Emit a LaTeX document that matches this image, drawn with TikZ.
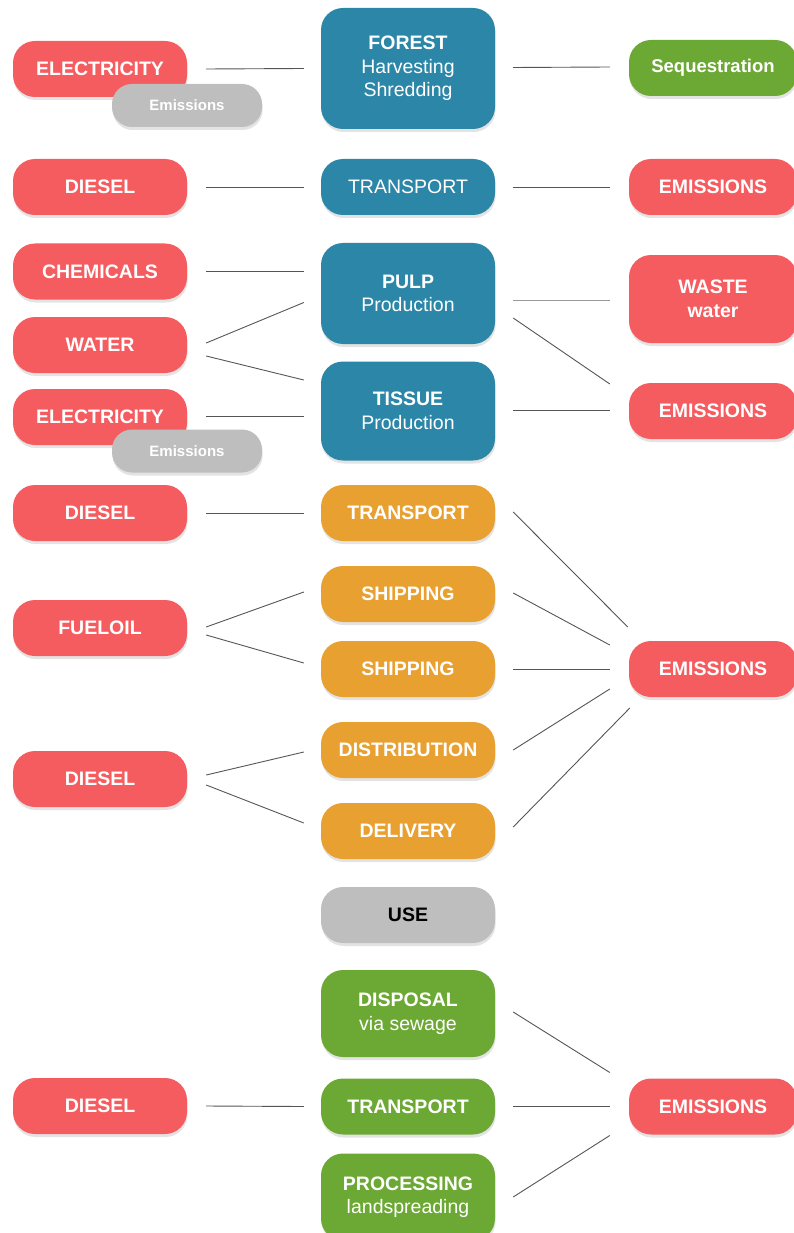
\documentclass[tikz,border=0pt]{standalone}
\usepackage{fontspec}
\setmainfont{Liberation Sans}
\usetikzlibrary{shadows}
\definecolor{cred}{RGB}{245,92,96}
\definecolor{cblue}{RGB}{44,134,168}
\definecolor{corange}{RGB}{232,160,48}
\definecolor{cgreen}{RGB}{108,168,52}
\definecolor{cgray}{RGB}{190,190,190}
\definecolor{cline}{RGB}{85,85,85}
\begin{document}
\begin{tikzpicture}[x=1pt,y=-1pt,
  box/.style={rounded corners=22pt, inner sep=0pt, align=center, text=white,
    font=\bfseries\fontsize{19.5}{23.5}\selectfont,
    minimum width=174pt, minimum height=56pt,
    drop shadow={opacity=0.22,shadow xshift=0.6pt,shadow yshift=-3pt}},
  redbox/.style={box, fill=cred},
  bluebox/.style={box, fill=cblue},
  orangebox/.style={box, fill=corange},
  greenbox/.style={box, fill=cgreen},
  graybox/.style={box, fill=cgray},
  smallgray/.style={box, fill=cgray, rounded corners=20pt, minimum width=150pt, minimum height=43pt,
    font=\bfseries\fontsize{15}{17}\selectfont},
  rightbox/.style={minimum width=168pt},
  link/.style={draw=cline, line width=0.9pt}
]
\useasboundingbox (0,0) rectangle (794,1233);

% ---------- left column ----------
\node[redbox] (el1) at (100,69) {ELECTRICITY};
\node[smallgray] (em1) at (187,105.5) {Emissions};
\node[redbox] (dsl1) at (100,187) {DIESEL};
\node[redbox] (chem) at (100,271.5) {CHEMICALS};
\node[redbox] (water) at (100,345) {WATER};
\node[redbox] (el2) at (100,417) {ELECTRICITY};
\node[smallgray] (em2) at (187,451) {Emissions};
\node[redbox] (dsl2) at (100,513) {DIESEL};
\node[redbox] (fuel) at (100,628) {FUELOIL};
\node[redbox] (dsl3) at (100,779) {DIESEL};
\node[redbox] (dsl4) at (100,1106) {DIESEL};

% ---------- middle column ----------
\node[bluebox, minimum height=121pt] (forest) at (408,68.5) {FOREST\\{\mdseries Harvesting}\\{\mdseries Shredding}};
\node[bluebox, font=\mdseries\fontsize{19.5}{23.5}\selectfont] (trb) at (408,187) {TRANSPORT};
\node[bluebox, minimum height=101pt] (pulp) at (408,293.5) {PULP\\{\mdseries Production}};
\node[bluebox, minimum height=99pt] (tissue) at (408,411) {TISSUE\\{\mdseries Production}};
\node[orangebox] (tro) at (408,513) {TRANSPORT};
\node[orangebox] (ship1) at (408,594) {SHIPPING};
\node[orangebox] (ship2) at (408,669) {SHIPPING};
\node[orangebox] (dist) at (408,750) {DISTRIBUTION};
\node[orangebox] (deliv) at (408,831) {DELIVERY};
\node[graybox, text=black] (use) at (408,915) {USE};
\node[greenbox, minimum height=87pt] (disp) at (408,1013.5) {DISPOSAL\\{\mdseries via sewage}};
\node[greenbox] (trg) at (408,1106.5) {TRANSPORT};
\node[greenbox, minimum height=87pt] (proc) at (408,1197) {PROCESSING\\{\mdseries landspreading}};

% ---------- right column ----------
\node[greenbox, rightbox, font=\bfseries\fontsize{18.5}{23}\selectfont] (seq) at (713,68) {Sequestration};
\node[redbox, rightbox] (emr1) at (713,187) {EMISSIONS};
\node[redbox, rightbox, minimum height=88pt] (waste) at (713,299) {WASTE\\water};
\node[redbox, rightbox] (emr2) at (713,411) {EMISSIONS};
\node[redbox, rightbox] (emr3) at (713,669) {EMISSIONS};
\node[redbox, rightbox] (emr4) at (713,1106.5) {EMISSIONS};

% ---------- connectors: left ----------
\draw[link] ([xshift=19pt]el1.east) -- ([xshift=-17pt]forest.west);
\draw[link] ([xshift=19pt]dsl1.east) -- ([xshift=-17pt]trb.west);
\draw[link] ([xshift=19pt]chem.east) -- ([xshift=-17pt,yshift=22pt]pulp.west);
\draw[link] ([xshift=19pt,yshift=2pt]water.east) -- ([xshift=-17pt,yshift=-9pt]pulp.west);
\draw[link] ([xshift=19pt,yshift=-11pt]water.east) -- ([xshift=-17pt,yshift=31pt]tissue.west);
\draw[link] ([xshift=19pt,yshift=1pt]el2.east) -- ([xshift=-17pt,yshift=-5pt]tissue.west);
\draw[link] ([xshift=19pt]dsl2.east) -- ([xshift=-17pt]tro.west);
\draw[link] ([xshift=19pt,yshift=1pt]fuel.east) -- ([xshift=-17pt,yshift=2pt]ship1.west);
\draw[link] ([xshift=19pt,yshift=-7pt]fuel.east) -- ([xshift=-17pt,yshift=6pt]ship2.west);
\draw[link] ([xshift=19pt,yshift=4pt]dsl3.east) -- ([xshift=-17pt,yshift=-2pt]dist.west);
\draw[link] ([xshift=19pt,yshift=-6pt]dsl3.east) -- ([xshift=-17pt,yshift=8pt]deliv.west);
\draw[link] ([xshift=19pt]dsl4.east) -- ([xshift=-17pt]trg.west);

% ---------- connectors: right ----------
\draw[link] ([xshift=18pt,yshift=1pt]forest.east) -- ([xshift=-19pt,yshift=1pt]seq.west);
\draw[link] ([xshift=18pt]trb.east) -- ([xshift=-19pt]emr1.west);
\draw[link, draw=cline!60] ([xshift=18pt,yshift=-6.5pt]pulp.east) -- ([xshift=-19pt,yshift=-1pt]waste.west);
\draw[link] ([xshift=18pt,yshift=-24.5pt]pulp.east) -- ([xshift=-19pt,yshift=27pt]emr2.west);
\draw[link] ([xshift=18pt,yshift=1pt]tissue.east) -- ([xshift=-19pt,yshift=1pt]emr2.west);
\draw[link] ([xshift=18pt,yshift=1pt]tro.east) -- ([xshift=-1pt,yshift=42pt]emr3.west);
\draw[link] ([xshift=18pt,yshift=1pt]ship1.east) -- ([xshift=-19pt,yshift=24pt]emr3.west);
\draw[link] ([xshift=18pt]ship2.east) -- ([xshift=-19pt]emr3.west);
\draw[link] ([xshift=18pt]dist.east) -- ([xshift=-19pt,yshift=-20pt]emr3.west);
\draw[link] ([xshift=18pt,yshift=4pt]deliv.east) -- ([xshift=1pt,yshift=-39pt]emr3.west);
\draw[link] ([xshift=18pt,yshift=1.5pt]disp.east) -- ([xshift=-19pt,yshift=34pt]emr4.west);
\draw[link] ([xshift=18pt]trg.east) -- ([xshift=-19pt]emr4.west);
\draw[link] ([xshift=18pt]proc.east) -- ([xshift=-19pt,yshift=-29pt]emr4.west);
\end{tikzpicture}
\end{document}
